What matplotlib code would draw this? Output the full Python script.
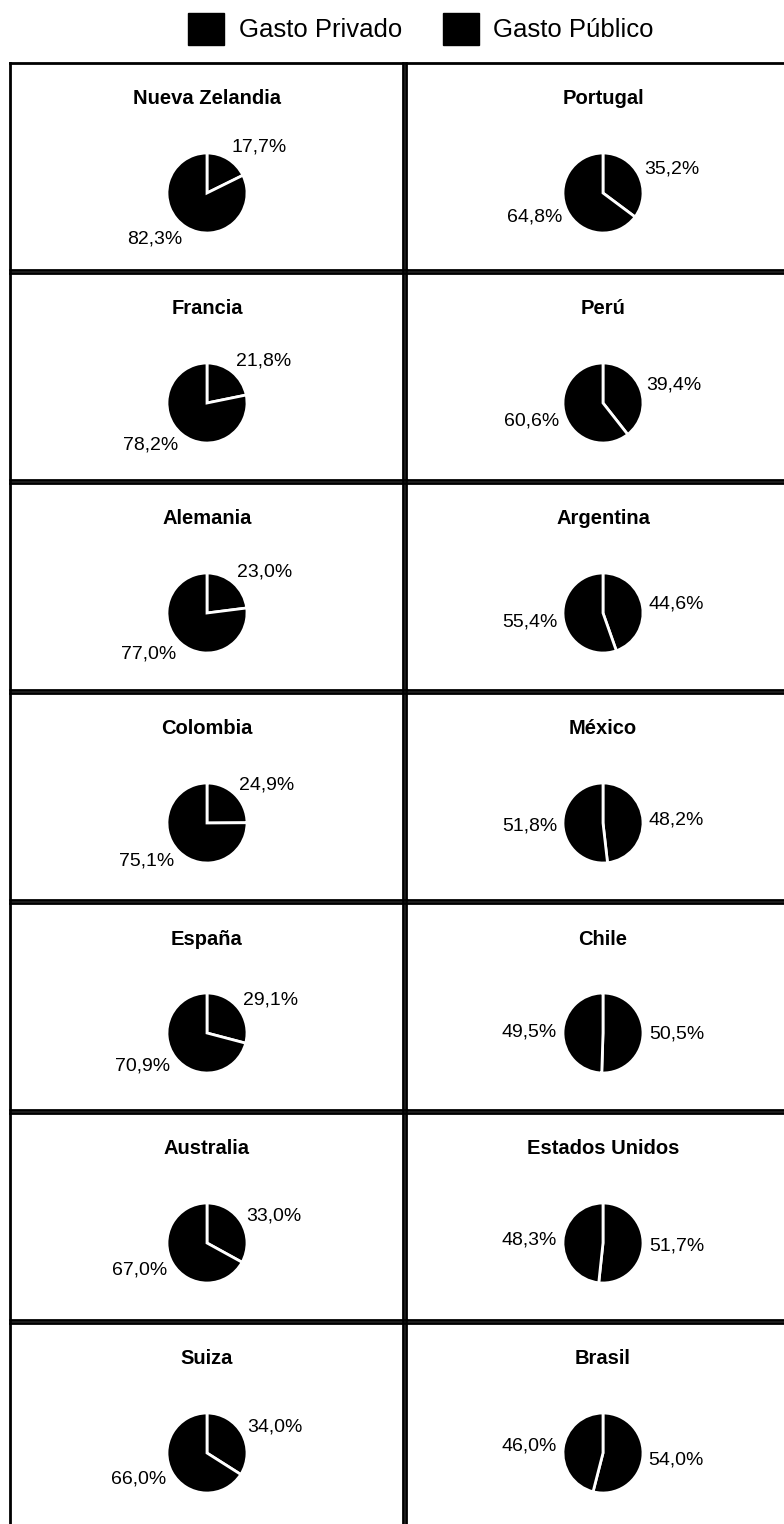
import matplotlib
matplotlib.use("Agg")
import numpy as np
import matplotlib.pyplot as plt
from matplotlib.patches import Patch

plt.rcParams['font.family'] = ['Liberation Sans', 'DejaVu Sans']

# países en el orden de los paneles (fila por fila, izquierda -> derecha)
paises = ["Nueva Zelandia", "Portugal", "Francia", "Perú", "Alemania", "Argentina",
          "Colombia", "México", "España", "Chile", "Australia", "Estados Unidos",
          "Suiza", "Brasil"]
gasto_privado = [17.7, 35.2, 21.8, 39.4, 23.0, 44.6, 24.9, 48.2, 29.1, 50.5, 33.0, 51.7, 34.0, 54.0]
gasto_publico = [82.3, 64.8, 78.2, 60.6, 77.0, 55.4, 75.1, 51.8, 70.9, 49.5, 67.0, 48.3, 66.0, 46.0]
series = ["Gasto Privado", "Gasto Público"]

W, H = 784, 1524
fig = plt.figure(figsize=(W / 100, H / 100), dpi=100)

def fmt(v):
    return f"{v:.1f}".replace(".", ",") + "%"

panel_w = 393
panel_h = 207
col_x = [10, 406]
row_top0 = 63
row_step = 210

for i, pais in enumerate(paises):
    fila, col = divmod(i, 2)
    x0 = col_x[col]
    top = row_top0 + fila * row_step
    # marco del panel
    frame = fig.add_axes([x0 / W, 1 - (top + panel_h) / H, panel_w / W, panel_h / H])
    frame.set_xticks([])
    frame.set_yticks([])
    for s in frame.spines.values():
        s.set_linewidth(2)
        s.set_color("black")
    frame.text(197 / panel_w, 1 - 36 / panel_h, pais, transform=frame.transAxes,
               ha="center", va="center", fontsize=14.5, fontweight="bold")

    # torta: radio 40 px, centro a 130 px del borde superior
    cx, cy = x0 + 197, top + 130
    size = 200
    ax = fig.add_axes([(cx - size / 2) / W, 1 - (cy + size / 2) / H, size / W, size / H])
    vals = [gasto_privado[i], gasto_publico[i]]
    ax.pie(vals, colors=["black", "black"], startangle=90, counterclock=False, radius=1,
           wedgeprops=dict(edgecolor="white", linewidth=2))

    # etiquetas fuera de la torta, junto al borde de cada porción
    acum = 0.0
    for v in vals:
        theta = np.deg2rad(90 - 3.6 * (acum + v / 2))
        acum += v
        c, s = np.cos(theta), np.sin(theta)
        ax.text(1.15 * c, 1.15 * s + 0.2 * s, fmt(v),
                ha="left" if c >= 0 else "right", va="center", fontsize=14)
    ax.set_xlim(-2.5, 2.5)
    ax.set_ylim(-2.5, 2.5)
    ax.set_aspect("equal")
    ax.axis("off")

handles = [Patch(facecolor="black", edgecolor="black") for _ in series]
fig.legend(handles, series, loc="center", bbox_to_anchor=(421 / W, 1 - 29 / H),
           ncol=2, frameon=False, fontsize=18.5, handlelength=1.4, handleheight=1.5,
           handletextpad=0.55, columnspacing=1.6)

fig.savefig("out.png", dpi=100)
